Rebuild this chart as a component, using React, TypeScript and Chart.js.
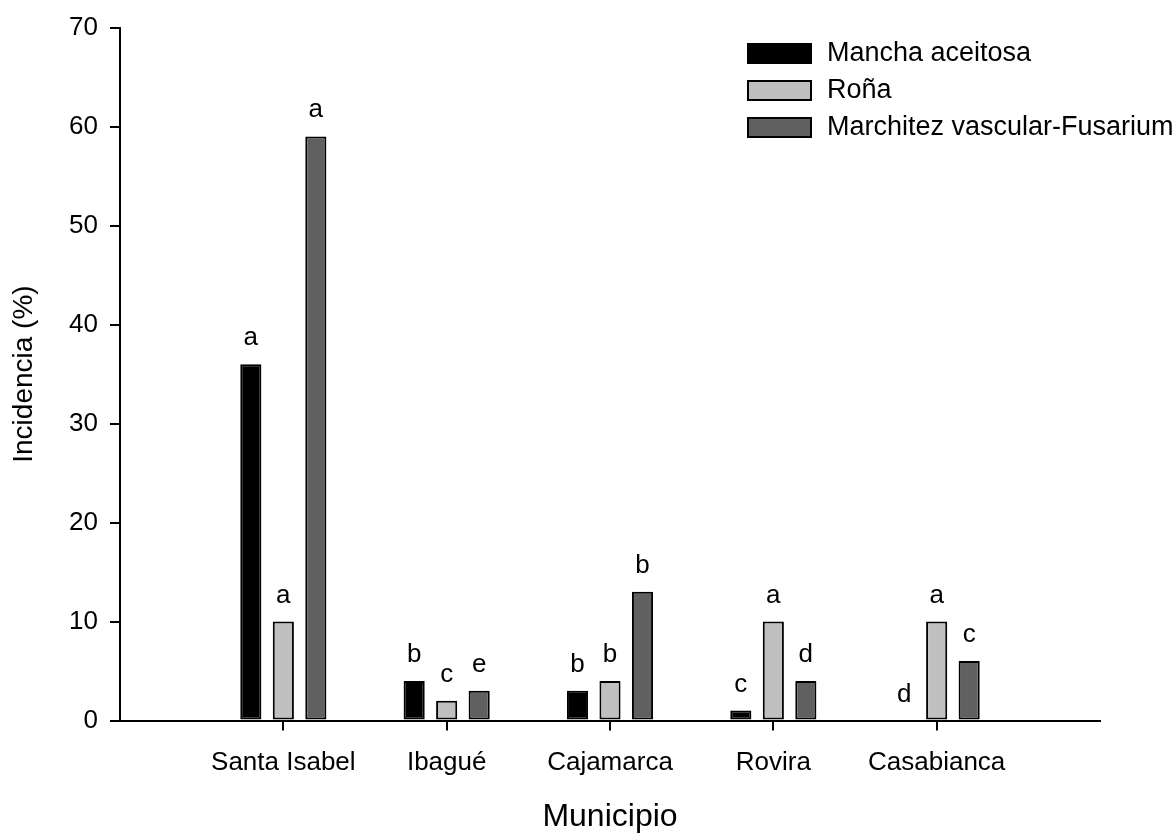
import React, { useEffect, useRef } from 'react';
import { Chart, registerables } from 'chart.js';

Chart.register(...registerables);

const FONT = '"Liberation Sans", Arial, Helvetica, sans-serif';

const municipios = ['Santa Isabel', 'Ibagué', 'Cajamarca', 'Rovira', 'Casabianca'];
const seriesNames = ['Mancha aceitosa', 'Roña', 'Marchitez vascular-Fusarium'];
const manchaAceitosa = [36, 4, 3, 1, 0];
const rona = [10, 2, 4, 10, 10];
const marchitez = [59, 3, 13, 4, 6];
const letrasMancha = ['a', 'b', 'b', 'c', 'd'];
const letrasRona = ['a', 'c', 'b', 'a', 'a'];
const letrasMarchitez = ['a', 'e', 'b', 'd', 'c'];
const seriesColors = ['#000000', '#c0c0c0', '#606060'];
const yMin = 0;
const yMax = 70;
const yStep = 10;

const seriesValues = [manchaAceitosa, rona, marchitez];
const seriesLetters = [letrasMancha, letrasRona, letrasMarchitez];

const lettersPlugin = {
  id: 'letters',
  afterDatasetsDraw(chart: any) {
    const ctx = chart.ctx;
    ctx.save();
    ctx.font = `26px ${FONT}`;
    ctx.fillStyle = '#000';
    ctx.textAlign = 'center';
    ctx.textBaseline = 'alphabetic';
    chart.data.datasets.forEach((_ds: any, i: number) => {
      const meta = chart.getDatasetMeta(i);
      meta.data.forEach((el: any, j: number) => {
        const txt = seriesLetters[i][j];
        if (txt) ctx.fillText(txt, el.x, el.y - 19);
      });
    });
    ctx.restore();
  },
};

const legendPlugin = {
  id: 'boxLegend',
  afterDraw(chart: any) {
    const ctx = chart.ctx;
    ctx.save();
    chart.data.datasets.forEach((ds: any, i: number) => {
      const cy = 53.5 + i * 37;
      const bx = 747;
      const bw = 65;
      const bh = 21;
      ctx.fillStyle = ds.backgroundColor;
      ctx.fillRect(bx, cy - bh / 2, bw, bh);
      ctx.lineWidth = 2;
      ctx.strokeStyle = '#000';
      ctx.strokeRect(bx + 1, cy - bh / 2 + 1, bw - 2, bh - 2);
      ctx.fillStyle = '#000';
      ctx.font = `27px ${FONT}`;
      ctx.textAlign = 'left';
      ctx.textBaseline = 'middle';
      ctx.fillText(ds.label, 827, cy);
    });
    ctx.restore();
  },
};

export default function App() {
  const canvasRef = useRef<HTMLCanvasElement | null>(null);

  useEffect(() => {
    document.body.style.margin = '0';
    const canvas = canvasRef.current;
    if (!canvas) return;

    const datasets = seriesNames.map((name, i) => ({
      label: name,
      data: municipios.map((_m, j) => ({ x: j + 1, y: seriesValues[i][j] })),
      backgroundColor: seriesColors[i],
      borderColor: '#000000',
      borderWidth: 2,
      borderSkipped: false as const,
      categoryPercentage: 0.597,
      barPercentage: 0.65,
    }));

    const chart = new Chart(canvas, {
      type: 'bar',
      data: { datasets },
      options: {
        responsive: false,
        animation: false,
        layout: { padding: { top: 24, right: 72, left: 0, bottom: 0 } },
        plugins: {
          legend: { display: false },
          tooltip: { enabled: false },
        },
        scales: {
          x: {
            type: 'linear',
            min: 0,
            max: municipios.length + 1,
            offset: false,
            afterBuildTicks: (s: any) => {
              s.ticks = municipios.map((_m, i) => ({ value: i + 1 }));
            },
            afterFit: (s: any) => {
              s.height = 115.5;
            },
            grid: {
              drawOnChartArea: false,
              drawTicks: true,
              tickLength: 10,
              color: '#000',
              lineWidth: 2,
              offset: false,
            },
            border: { display: true, color: '#000', width: 2 },
            ticks: {
              color: '#000',
              font: { family: FONT, size: 26 },
              padding: 17,
              autoSkip: false,
              maxRotation: 0,
              callback: (v: any) => municipios[Number(v) - 1] ?? '',
            },
            title: {
              display: true,
              text: 'Municipio',
              color: '#000',
              font: { family: FONT, size: 32 },
              padding: { top: 0, bottom: 0 },
            },
          },
          y: {
            min: yMin,
            max: yMax,
            afterFit: (s: any) => {
              s.width = 120;
            },
            grid: {
              drawOnChartArea: false,
              drawTicks: true,
              tickLength: 10,
              color: '#000',
              lineWidth: 2,
            },
            border: { display: true, color: '#000', width: 2 },
            ticks: {
              stepSize: yStep,
              color: '#000',
              font: { family: FONT, size: 26 },
              padding: 12,
            },
            title: {
              display: true,
              text: 'Incidencia (%)',
              color: '#000',
              font: { family: FONT, size: 28 },
              padding: { top: 7, bottom: 0 },
            },
          },
        },
      } as any,
      plugins: [lettersPlugin, legendPlugin],
    });

    return () => {
      chart.destroy();
    };
  }, []);

  return (
    <div style={{ width: 1172, height: 836, overflow: 'hidden', background: '#fff' }}>
      <canvas ref={canvasRef} width={1172} height={836} style={{ display: 'block' }} />
    </div>
  );
}
